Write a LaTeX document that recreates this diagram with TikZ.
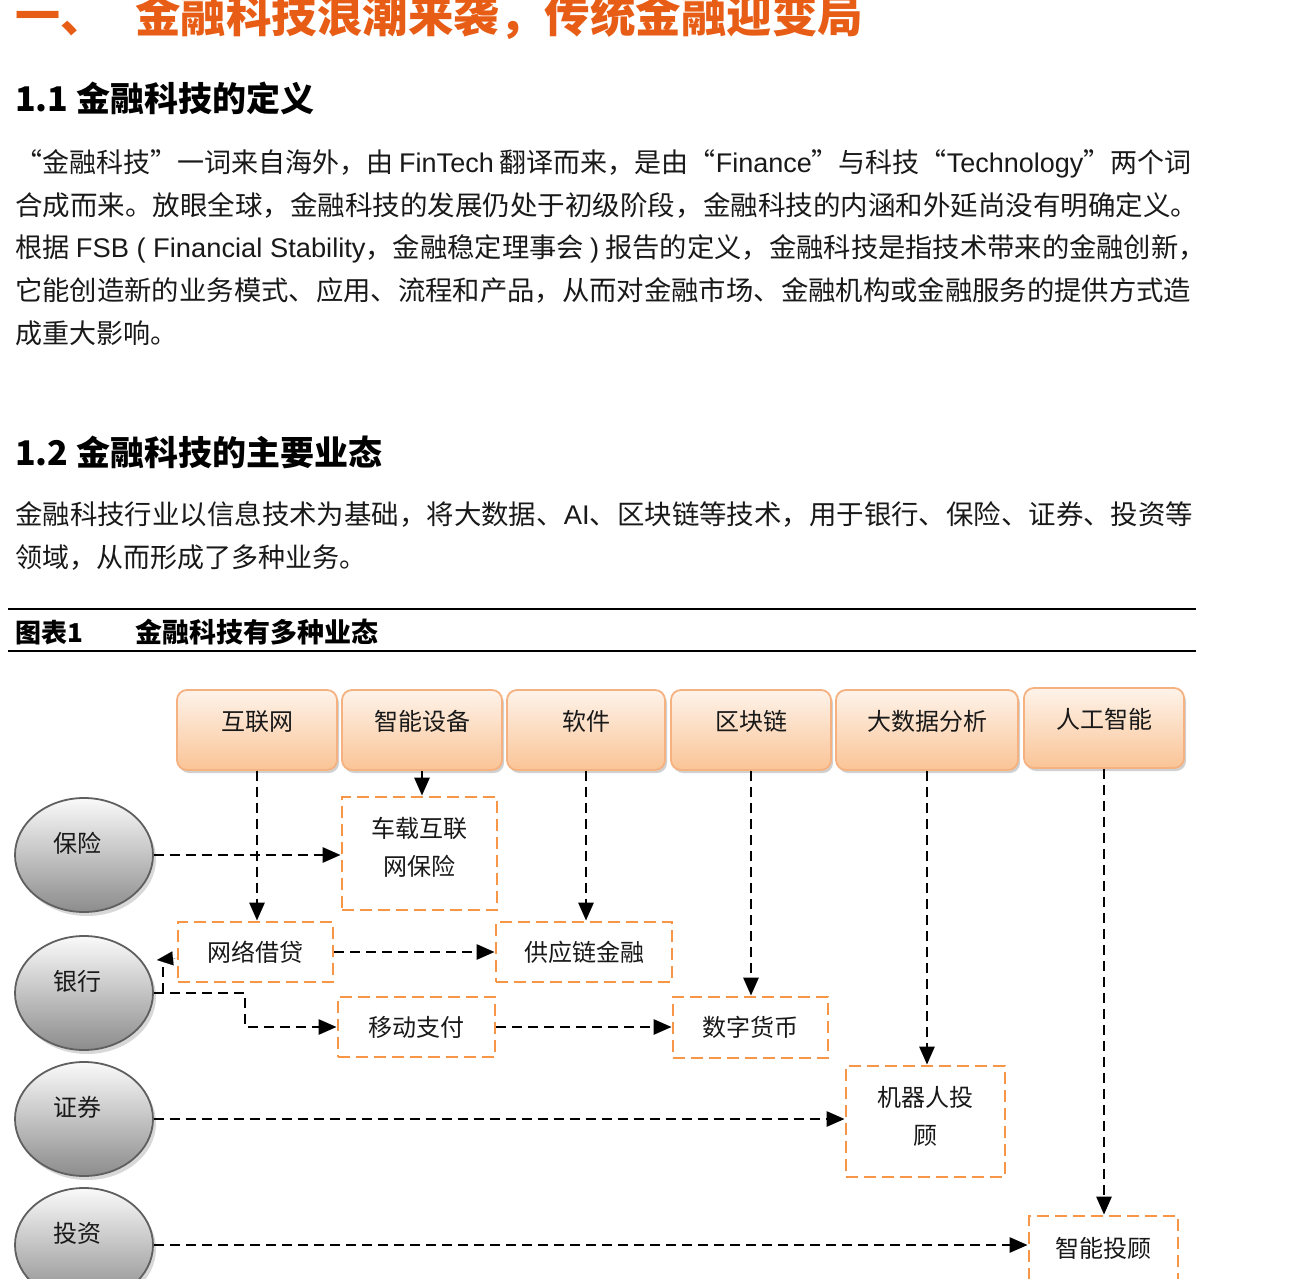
\documentclass[tikz,border=0pt]{standalone}
\usepackage{fontspec}
\usepackage{graphicx}
\setmainfont{Noto Sans CJK SC}
\newfontfamily\lat{Liberation Sans}
\usetikzlibrary{arrows.meta,shadows,shapes.geometric}
\definecolor{titleor}{RGB}{232,93,22}
\definecolor{boxtop}{RGB}{254,243,234}
\definecolor{boxbot}{RGB}{250,196,150}
\definecolor{boxborder}{RGB}{245,178,128}
\definecolor{dashor}{RGB}{247,150,70}
\definecolor{elltop}{RGB}{250,250,250}
\definecolor{ellbot}{RGB}{140,140,140}
\definecolor{ellborder}{RGB}{95,95,95}
\definecolor{txt}{RGB}{25,25,25}
\tikzset{
  bodyline/.style={anchor=base west, inner sep=0pt, text=txt, font=\fontsize{27}{27}\selectfont},
  headline/.style={anchor=base west, inner sep=0pt, text=black, font=\fontsize{34}{34}\selectfont\bfseries},
  tbox/.style={rectangle, rounded corners=10pt, draw=boxborder, line width=1.8pt,
    top color=boxtop, bottom color=boxbot, minimum height=80pt, inner sep=0pt,
    text height=12pt, text depth=12pt, text=txt, font=\fontsize{24}{24}\selectfont,
    drop shadow={shadow xshift=2pt, shadow yshift=-3pt, opacity=0.3, fill=black!60}},
  ellip/.style={ellipse, draw=ellborder, line width=1.8pt, top color=elltop, bottom color=ellbot,
    minimum width=138pt, minimum height=114pt, inner sep=0pt,
    text height=8pt, text depth=14pt, text=txt, font=\fontsize{24}{24}\selectfont,
    drop shadow={shadow xshift=3pt, shadow yshift=-4pt, opacity=0.25, fill=black!60}},
  obox/.style={rectangle, draw=dashor, dash pattern=on 12pt off 6pt, line width=2.8pt,
    fill=white, inner sep=0pt, align=center, text=txt, font=\fontsize{24}{38}\selectfont},
  boxtext/.style={inner sep=0pt, align=center, text=txt, font=\fontsize{24}{38}\selectfont},
  conn/.style={draw=black, line width=2.8pt, dash pattern=on 10pt off 6pt,
    -{Triangle[length=18pt,width=15pt]}},
  rule/.style={draw=black, line width=1.8pt}
}
\begin{document}
\begin{tikzpicture}[x=1pt,y=-1pt]
\useasboundingbox (0,0) rectangle (1296,1279);
\fill[white] (0,0) rectangle (1296,1279);

% title
\node[anchor=base west, inner sep=0pt, text=titleor, font=\fontsize{45}{45}\selectfont\bfseries] (t0) at (15,33) {一、};
\node[anchor=base west, inner sep=0pt, text=titleor, font=\fontsize{45.5}{45}\selectfont\bfseries] (t1) at (135,33) {金融科技浪潮来袭，传统金融迎变局};

% section 1.1
\node[headline] (h11) at (15,112) {1.1 金融科技的定义};
\node[bodyline] (p1) at (15,172) {“金融科技”一词来自海外，由 {\lat FinTech} 翻译而来，是由“{\lat Finance}”与科技“{\lat Technology}”两个词};
\node[bodyline] (p2) at (15,215) {\scalebox{1.019}[1]{合成而来。放眼全球，金融科技的发展仍处于初级阶段，金融科技的内涵和外延尚没有明确定义。}};
\node[bodyline] (p3) at (15,257) {\scalebox{1.011}[1]{根据 {\lat FSB ( Financial Stability}，金融稳定理事会 {\lat )} 报告的定义，金融科技是指技术带来的金融创新，}};
\node[bodyline] (p4) at (15,300) {\scalebox{1.013}[1]{它能创造新的业务模式、应用、流程和产品，从而对金融市场、金融机构或金融服务的提供方式造}};
\node[bodyline] (p5) at (15,343) {成重大影响。};

% section 1.2
\node[headline] (h12) at (15,465) {1.2 金融科技的主要业态};
\node[bodyline] (q1) at (15,524) {\scalebox{1.016}[1]{金融科技行业以信息技术为基础，将大数据、{\lat AI}、区块链等技术，用于银行、保险、证券、投资等}};
\node[bodyline] (q2) at (15,567) {领域，从而形成了多种业务。};

% caption
\draw[rule] (8,609) -- (1196,609);
\draw[rule] (8,651) -- (1196,651);
\node[anchor=base west, inner sep=0pt, font=\fontsize{26}{26}\selectfont\bfseries] (cap1) at (15,642) {图表1};
\node[anchor=base west, inner sep=0pt, font=\fontsize{27}{27}\selectfont\bfseries] (cap2) at (135,642) {金融科技有多种业态};

% top technology boxes
\node[tbox, minimum width=160pt] (hlw) at (257,730) {互联网};
\node[tbox, minimum width=160pt] (znsb) at (422,730) {智能设备};
\node[tbox, minimum width=158pt] (rj) at (586,730) {软件};
\node[tbox, minimum width=160pt] (qkl) at (751,730) {区块链};
\node[tbox, minimum width=182pt] (dsj) at (927,730) {大数据分析};
\node[tbox, minimum width=160pt] (rgzn) at (1104,728) {人工智能};

% ellipses
\node[ellip] (bx) at (84,855) {保险\hspace*{14pt}};
\node[ellip] (yh) at (84,993) {银行\hspace*{14pt}};
\node[ellip] (zq) at (84,1119) {证券\hspace*{14pt}};
\node[ellip] (tz) at (84,1245) {投资\hspace*{14pt}};

% business boxes
\node[obox, minimum width=155pt, minimum height=113pt] (cz) at (419.5,853.5) {};
\node[boxtext] (czt) at (419.5,847) {车载互联\\网保险};
\node[obox, minimum width=155pt, minimum height=60pt] (wljd) at (255.5,952) {网络借贷};
\node[obox, minimum width=176pt, minimum height=60pt] (gyl) at (584,952) {供应链金融};
\node[obox, minimum width=157pt, minimum height=60pt] (ydzf) at (416.5,1027) {移动支付};
\node[obox, minimum width=155pt, minimum height=61pt] (szhb) at (750.5,1027.5) {数字货币};
\node[obox, minimum width=159pt, minimum height=111pt] (jqr) at (925.5,1121.5) {};
\node[boxtext] (jqrt) at (925.5,1116) {机器人投\\顾};
\node[obox, minimum width=149pt, minimum height=64pt] (zntg) at (1103.5,1248) {智能投顾};

% vertical connectors
\draw[conn] (hlw.south) -- (hlw.south |- wljd.north);
\draw[conn] (znsb.south) -- (znsb.south |- cz.north);
\draw[conn] (rj.south) -- (rj.south |- gyl.north);
\draw[conn] (qkl.south) -- (qkl.south |- szhb.north);
\draw[conn] (dsj.south) -- (dsj.south |- jqr.north);
\draw[conn] (rgzn.south) -- (rgzn.south |- zntg.north);

% horizontal connectors
\draw[conn] (bx.east) -- (bx.east -| cz.west);
\draw[conn] (wljd.east) -- (gyl.west);
\draw[conn] (ydzf.east) -- (szhb.west |- ydzf.east);
\draw[conn] (yh.east) -- (245,993) -- (245,1027) -- (ydzf.west);
\draw[conn] (zq.east) -- (zq.east -| jqr.west);
\draw[conn] (tz.east) -- (tz.east -| zntg.west);

% small connector between 网络借贷 and 银行
\coordinate (bkA) at (163,993);
\coordinate (bkB) at (163,967);
\draw[draw=black, line width=2.8pt, dash pattern=on 10pt off 6pt] (bkA) -- (bkB);
\draw[draw=black, line width=0.1pt, -{Triangle[length=16pt,width=14pt]}] (wljd.west |- 0,958) -- (157,960);
\end{tikzpicture}
\end{document}
